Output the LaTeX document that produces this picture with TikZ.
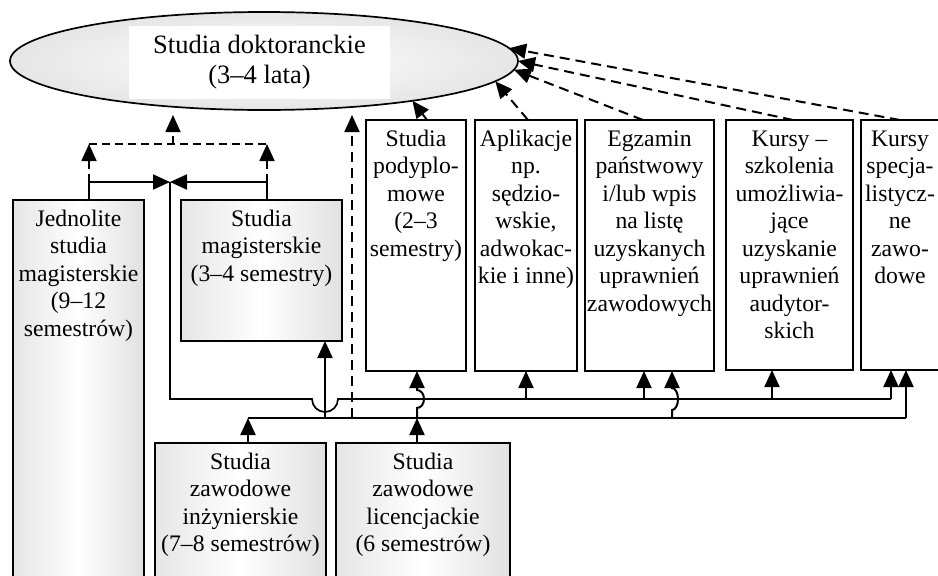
\documentclass[tikz,border=0pt]{standalone}
\usepackage{fontspec}
\setmainfont{Liberation Serif}
\usetikzlibrary{arrows.meta,shapes.geometric}
\begin{document}
\begin{tikzpicture}[x=1pt,y=-1pt,
  tri/.style={-{Triangle[length=17pt,width=15pt]}},
  arr/.style={line width=2pt,tri},
  darr/.style={arr,dash pattern=on 10pt off 6pt},
  sdash/.style={line width=1.7pt,dash pattern=on 8pt off 5pt},
  sdarr/.style={sdash,tri},
  bus/.style={line width=1.7pt},
  lbus/.style={line width=2.1pt},
  wbox/.style={draw,line width=1.9pt,fill=white,inner sep=0pt,outer sep=0pt,anchor=north west},
  gbox/.style={wbox,left color=gray!20,right color=gray!24,middle color=white},
  txt/.style={font=\fontsize{23.7}{27.5}\selectfont,align=center,inner sep=0pt,anchor=north,yshift=-9pt},
]
\useasboundingbox (0,0) rectangle (938,576);

% ellipse
\node[ellipse,draw,line width=1.7pt,minimum width=508pt,minimum height=98pt,inner sep=0pt,outer sep=0pt,
      shading=radial,inner color=white,outer color=gray!20] (dok) at (264,61) {};
\node[fill=white,minimum width=261pt,minimum height=73pt,inner sep=0pt,align=center,
      font=\fontsize{26.5}{30}\selectfont] (dokt) at (259.5,62) {Studia doktoranckie\\(3–4 lata)};

% top row boxes
\node[wbox,minimum width=100pt,minimum height=251pt] (pd) at (366,120) {};
\node[wbox,minimum width=102pt,minimum height=251pt] (ap) at (475,120) {};
\node[wbox,minimum width=129pt,minimum height=251pt] (eg) at (585,120) {};
\node[wbox,minimum width=127pt,minimum height=250pt] (ku) at (726,120) {};
\node[wbox,minimum width=80pt,minimum height=250pt] (ks) at (861,120) {};

% gray boxes
\node[gbox,minimum width=131pt,minimum height=390pt] (jed) at (13,200) {};
\node[gbox,minimum width=161pt,minimum height=141pt] (sm) at (181,200) {};
\node[gbox,minimum width=171pt,minimum height=150pt] (inz) at (155,443) {};
\node[gbox,minimum width=174pt,minimum height=150pt] (lic) at (336,443) {};

% texts
\node[txt] (pdt) at (pd.north) {\rule{0pt}{17pt}Studia\\podyplo-\\mowe\\(2–3\\semestry)};
\node[txt] (apt) at (ap.north) {\rule{0pt}{17pt}Aplikacje\\np.\\sędzio-\\wskie,\\adwokac-\\kie i inne)};
\node[txt] (egt) at (eg.north) {\rule{0pt}{17pt}Egzamin\\państwowy\\i/lub wpis\\na listę\\uzyskanych\\uprawnień\\zawodowych};
\node[txt] (kut) at (ku.north) {\rule{0pt}{17pt}Kursy –\\szkolenia\\umożliwia-\\jące\\uzyskanie\\uprawnień\\audytor-\\skich};
\node[txt] (kst) at ([xshift=-1pt]ks.north) {\rule{0pt}{17pt}Kursy\\specja-\\listycz-\\ne\\zawo-\\dowe};
\node[txt] (jedt) at (jed.north) {\rule{0pt}{17pt}Jednolite\\studia\\magisterskie\\(9–12\\semestrów)};
\node[txt] (smt) at (sm.north) {\rule{0pt}{17pt}Studia\\magisterskie\\(3–4 semestry)};
\node[txt] (inzt) at (inz.north) {\rule{0pt}{17pt}Studia\\zawodowe\\inżynierskie\\(7–8 semestrów)};
\node[txt] (lict) at (lic.north) {\rule{0pt}{17pt}Studia\\zawodowe\\licencjackie\\(6 semestrów)};

% coordinates
\coordinate (J) at (170,182);
\coordinate (Jl) at (89,182);
\coordinate (Jr) at (267,182);
\coordinate (Dl) at (89,144);
\coordinate (Dr) at (267,144);
\coordinate (Dm) at (173,144);
\coordinate (Dt) at (173,115);
\coordinate (Ub) at (170,399);
\coordinate (Uend) at (891,399);
\coordinate (L0) at (248,418);
\coordinate (Ls) at (325,418);
\coordinate (Ld) at (352,418);
\coordinate (Lp) at (417,418);
\coordinate (Le) at (672,418);
\coordinate (Lend) at (906,418);
\coordinate (Dkb) at (352,115);
\coordinate (eA) at ([xshift=-5.5pt]eg.south);
\coordinate (kA) at ([xshift=-17.5pt]ku.south);

% left junction
\draw[line width=1.9pt] (jed.north -| Jl) -- (Jl);
\draw[line width=1.9pt] (sm.north -| Jr) -- (Jr);
\draw[arr] (Jl) -- (J);
\draw[arr] (Jr) -- (J);
\draw[sdarr] (Jl) -- (Dl);
\draw[sdarr] (Jr) -- (Dr);
\draw[sdash] (Dl) -- (Dr);
\draw[sdarr] (Dm) -- (Dt);

% upper bus
\draw[bus] (J) -- (Ub) -- (312,399) arc[start angle=180,end angle=360,radius=13pt] -- (Uend);
\draw[arr] (Uend) -- (Uend |- ks.south);
\draw[arr] (ap.south |- Uend) -- (ap.south);
\draw[arr] (eA |- Uend) -- (eA);
\draw[arr] (kA |- Uend) -- (kA);

% lower bus
\draw[lbus] (L0) -- (Lend);
\draw[arr] (inz.north -| L0) -- (L0);
\draw[arr] (lic.north -| Lp) -- (Lp);
\draw[arr] (Ls) -- (Ls |- sm.south);
\draw[darr] (Ld) -- (Dkb);
\draw[arr] (Lp) -- (417,408) arc[start angle=-90,end angle=90,x radius=7pt,y radius=9pt] -- (Lp |- pd.south);
\draw[arr] (Le) -- (672,410) arc[start angle=-90,end angle=90,x radius=6pt,y radius=11pt] -- (Le |- eg.south);
\draw[arr] (Lend) -- (Lend |- ks.south);

% dashed arrows to the ellipse
\draw[darr] ([xshift=11pt]pd.north) -- (dok.-15);
\draw[darr] ([xshift=2pt]ap.north) -- (dok.-5.5);
\draw[darr] ([xshift=-6.5pt]eg.north) -- (dok.-2.3);
\draw[darr] ([xshift=3.5pt]ku.north) -- (dok.0);
\draw[darr] ([xshift=-1pt]ks.north) -- (dok.3.3);
\end{tikzpicture}
\end{document}
